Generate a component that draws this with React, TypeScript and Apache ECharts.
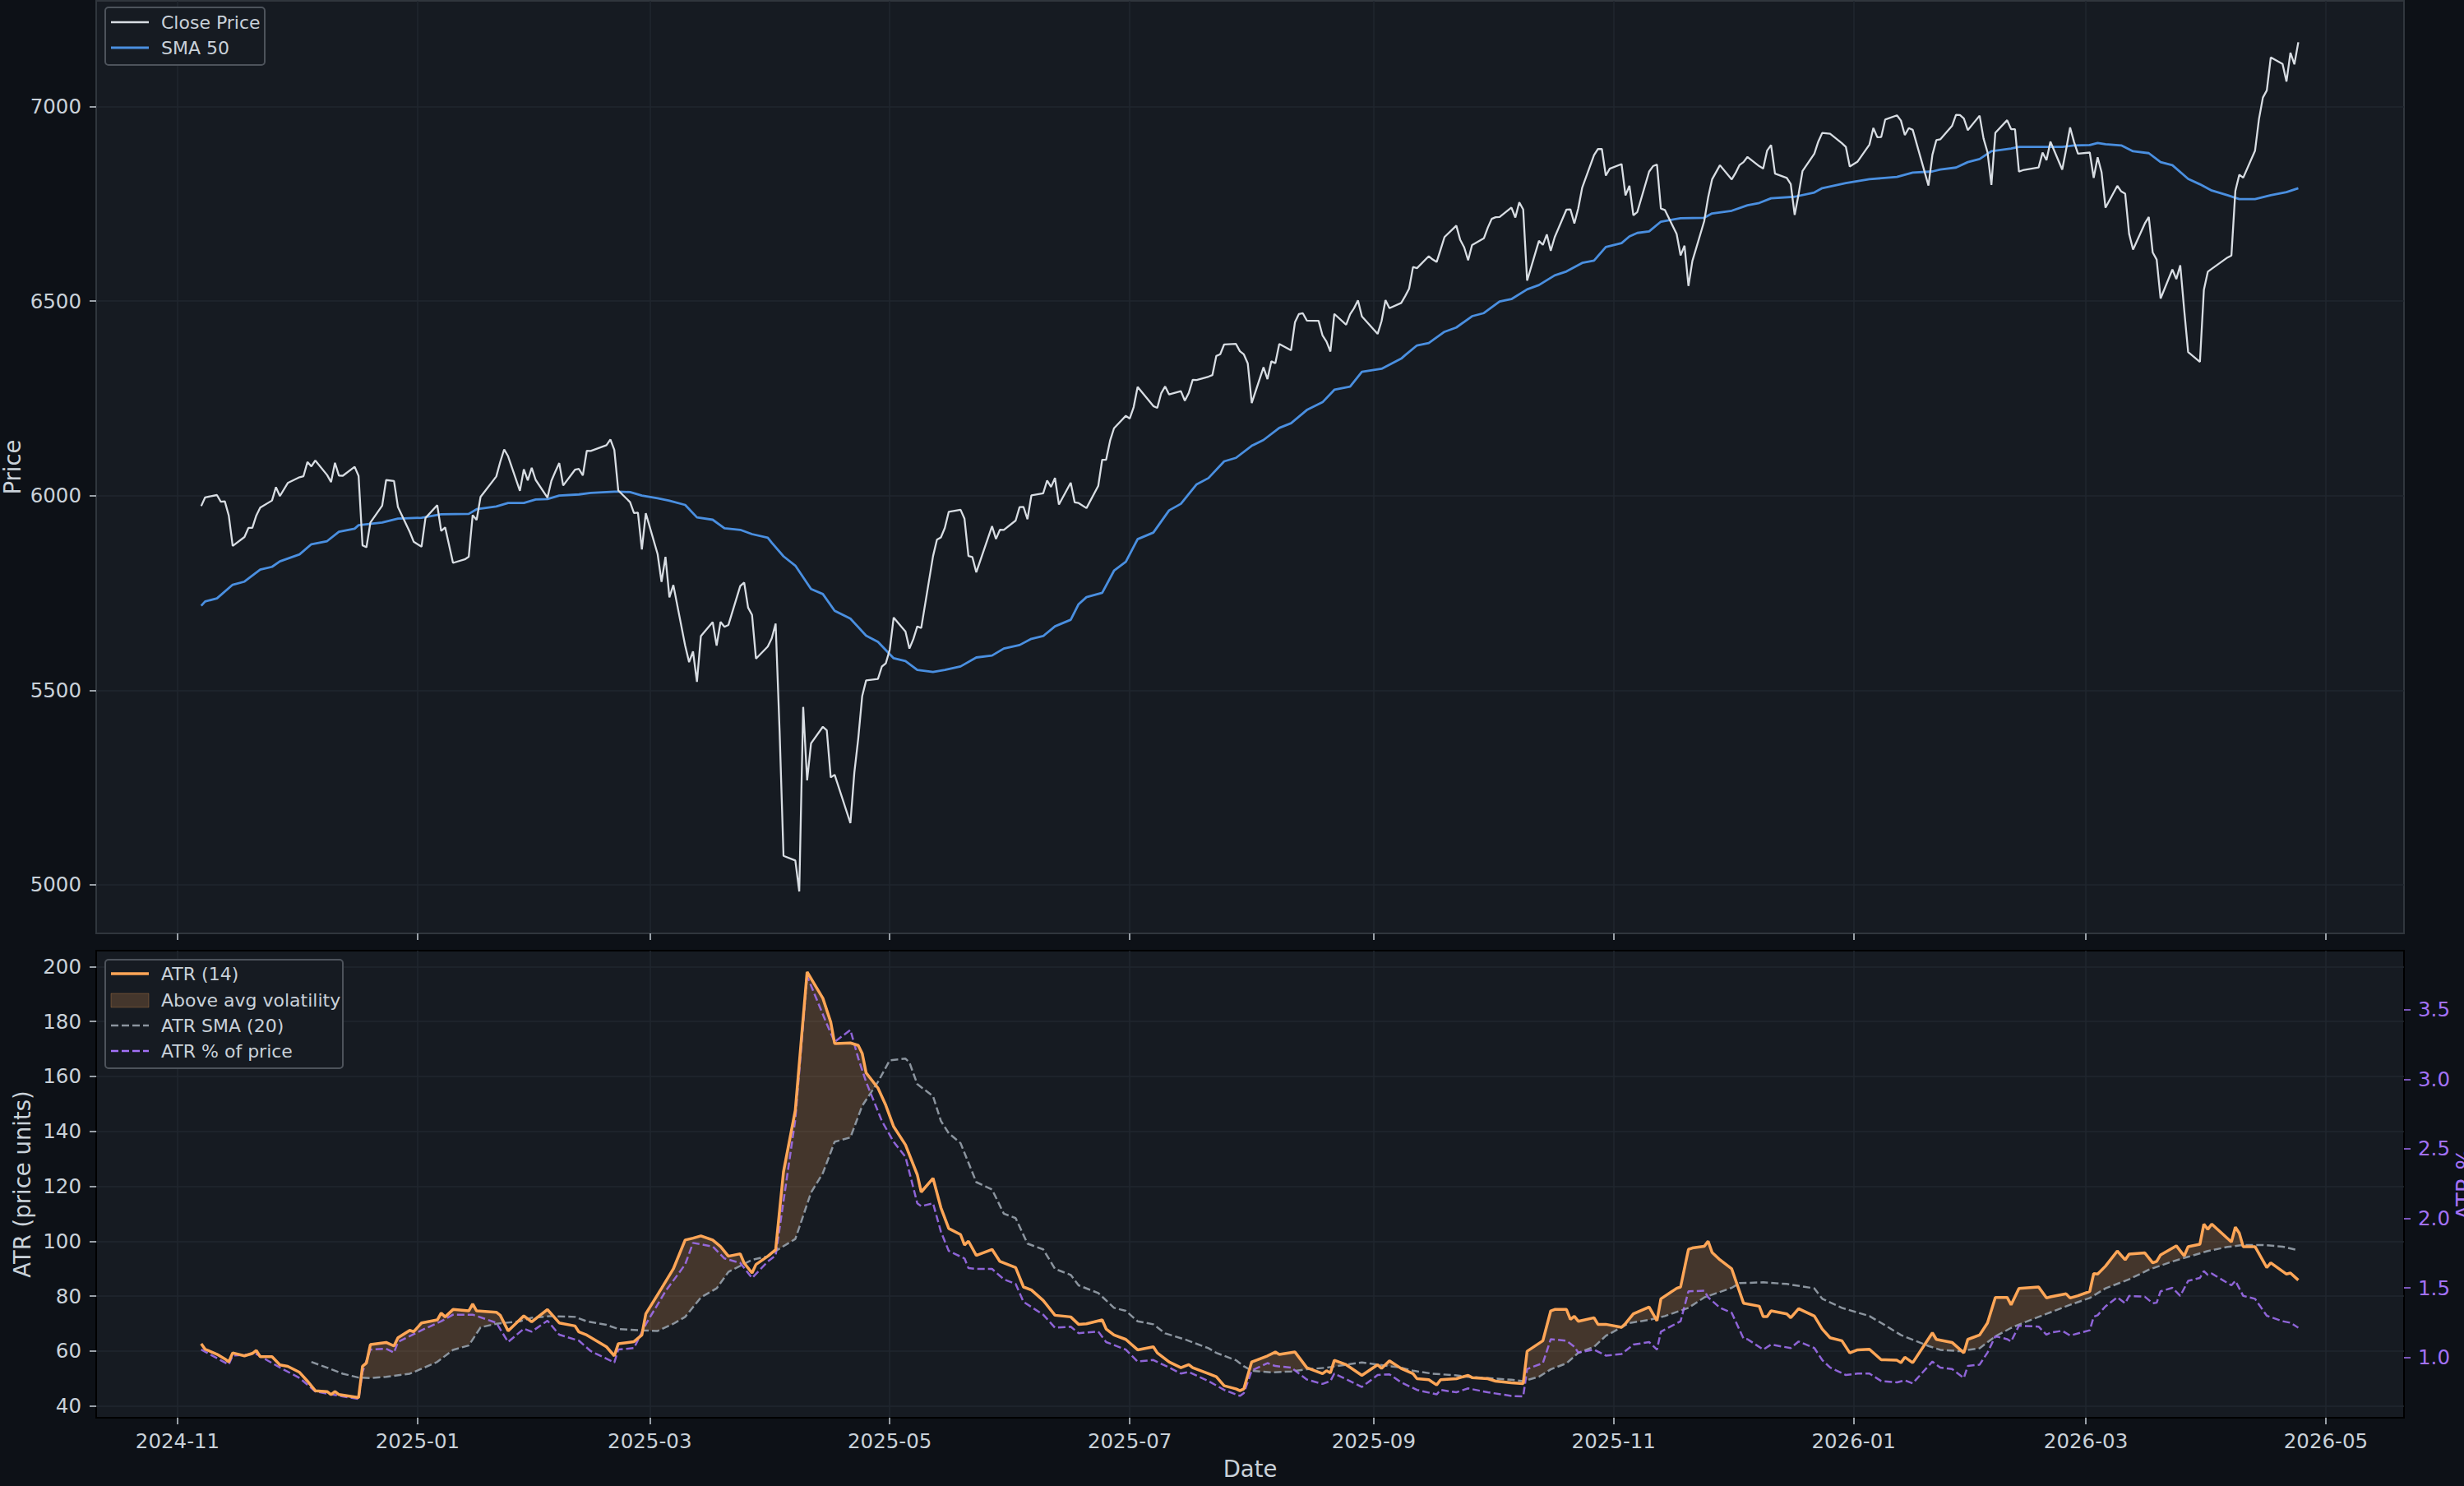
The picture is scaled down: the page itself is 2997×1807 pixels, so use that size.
import React, { useEffect, useRef } from "react";
import * as echarts from "echarts";

// ---------------- data ----------------
const closePrice: [string, number][] = [
  ["2024-11-07",5973.1],["2024-11-08",5995.5],["2024-11-11",6001.4],["2024-11-12",5984.0],["2024-11-13",5985.4],["2024-11-14",5949.2],["2024-11-15",5870.6],["2024-11-18",5893.6],["2024-11-19",5917.0],["2024-11-20",5917.1],["2024-11-21",5948.7],["2024-11-22",5969.3],["2024-11-25",5987.4],["2024-11-26",6021.6],["2024-11-27",5998.7],["2024-11-29",6032.4],
  ["2024-12-02",6047.2],["2024-12-03",6049.9],["2024-12-04",6086.5],["2024-12-05",6075.1],["2024-12-06",6090.3],["2024-12-09",6052.9],["2024-12-10",6034.9],["2024-12-11",6084.2],["2024-12-12",6051.3],["2024-12-13",6051.1],["2024-12-16",6074.1],["2024-12-17",6050.6],["2024-12-18",5872.2],["2024-12-19",5867.1],["2024-12-20",5930.9],["2024-12-23",5974.1],["2024-12-24",6040.0],["2024-12-26",6037.6],["2024-12-27",5970.8],["2024-12-30",5906.9],["2024-12-31",5881.6],
  ["2025-01-02",5868.6],["2025-01-03",5942.5],["2025-01-06",5975.4],["2025-01-07",5909.0],["2025-01-08",5918.3],["2025-01-10",5827.0],["2025-01-13",5836.2],["2025-01-14",5842.9],["2025-01-15",5949.9],["2025-01-16",5937.3],["2025-01-17",5996.7],["2025-01-21",6049.2],["2025-01-22",6086.4],["2025-01-23",6118.7],["2025-01-24",6101.2],["2025-01-27",6012.3],["2025-01-28",6067.7],["2025-01-29",6039.3],["2025-01-30",6071.2],["2025-01-31",6040.5],
  ["2025-02-03",5994.6],["2025-02-04",6037.9],["2025-02-05",6061.5],["2025-02-06",6083.6],["2025-02-07",6026.0],["2025-02-10",6066.4],["2025-02-11",6068.5],["2025-02-12",6052.0],["2025-02-13",6115.1],["2025-02-14",6114.6],["2025-02-18",6129.6],["2025-02-19",6144.2],["2025-02-20",6117.5],["2025-02-21",6013.1],["2025-02-24",5983.3],["2025-02-25",5955.3],["2025-02-26",5956.1],["2025-02-27",5861.6],["2025-02-28",5954.5],
  ["2025-03-03",5849.7],["2025-03-04",5778.2],["2025-03-05",5842.6],["2025-03-06",5738.5],["2025-03-07",5770.2],["2025-03-10",5614.6],["2025-03-11",5572.1],["2025-03-12",5599.3],["2025-03-13",5521.5],["2025-03-14",5638.9],["2025-03-17",5675.1],["2025-03-18",5614.7],["2025-03-19",5675.3],["2025-03-20",5662.9],["2025-03-21",5667.6],["2025-03-24",5767.6],["2025-03-25",5776.7],["2025-03-26",5712.2],["2025-03-27",5693.3],["2025-03-28",5580.9],["2025-03-31",5611.9],
  ["2025-04-01",5633.1],["2025-04-02",5671.0],["2025-04-03",5396.5],["2025-04-04",5074.1],["2025-04-07",5062.3],["2025-04-08",4982.8],["2025-04-09",5456.9],["2025-04-10",5268.1],["2025-04-11",5363.4],["2025-04-14",5406.0],["2025-04-15",5396.6],["2025-04-16",5275.7],["2025-04-17",5282.7],["2025-04-21",5158.2],["2025-04-22",5287.8],["2025-04-23",5375.9],["2025-04-24",5484.8],["2025-04-25",5525.2],["2025-04-28",5528.8],["2025-04-29",5560.8],["2025-04-30",5569.1],
  ["2025-05-01",5604.1],["2025-05-02",5686.7],["2025-05-05",5650.4],["2025-05-06",5606.9],["2025-05-07",5631.3],["2025-05-08",5663.9],["2025-05-09",5659.9],["2025-05-12",5844.2],["2025-05-13",5886.6],["2025-05-14",5892.6],["2025-05-15",5916.9],["2025-05-16",5958.4],["2025-05-19",5963.6],["2025-05-20",5940.5],["2025-05-21",5844.6],["2025-05-22",5842.0],["2025-05-23",5802.8],["2025-05-27",5921.5],["2025-05-28",5888.6],["2025-05-29",5912.2],["2025-05-30",5911.7],
  ["2025-06-02",5935.9],["2025-06-03",5970.4],["2025-06-04",5970.8],["2025-06-05",5939.3],["2025-06-06",6000.4],["2025-06-09",6005.9],["2025-06-10",6038.8],["2025-06-11",6022.2],["2025-06-12",6045.3],["2025-06-13",5977.0],["2025-06-16",6033.1],["2025-06-17",5982.7],["2025-06-18",5980.9],["2025-06-20",5967.8],["2025-06-23",6025.2],["2025-06-24",6092.2],["2025-06-25",6092.2],["2025-06-26",6141.0],["2025-06-27",6173.1],["2025-06-30",6205.0],
  ["2025-07-01",6198.0],["2025-07-02",6227.4],["2025-07-03",6279.4],["2025-07-07",6230.0],["2025-07-08",6225.5],["2025-07-09",6263.3],["2025-07-10",6280.5],["2025-07-11",6259.8],["2025-07-14",6268.6],["2025-07-15",6243.8],["2025-07-16",6263.7],["2025-07-17",6297.4],["2025-07-18",6296.8],["2025-07-21",6305.6],["2025-07-22",6309.6],["2025-07-23",6358.9],["2025-07-24",6363.4],["2025-07-25",6388.6],["2025-07-28",6389.8],["2025-07-29",6370.9],["2025-07-30",6362.9],["2025-07-31",6339.4],
  ["2025-08-01",6238.0],["2025-08-04",6329.9],["2025-08-05",6299.2],["2025-08-06",6345.1],["2025-08-07",6340.0],["2025-08-08",6389.5],["2025-08-11",6373.5],["2025-08-12",6445.8],["2025-08-13",6466.6],["2025-08-14",6468.5],["2025-08-15",6449.8],["2025-08-18",6449.2],["2025-08-19",6411.4],["2025-08-20",6395.8],["2025-08-21",6370.2],["2025-08-22",6466.9],["2025-08-25",6439.3],["2025-08-26",6465.9],["2025-08-27",6481.4],["2025-08-28",6501.9],["2025-08-29",6460.3],
  ["2025-09-02",6415.5],["2025-09-03",6448.3],["2025-09-04",6502.1],["2025-09-05",6481.5],["2025-09-08",6495.2],["2025-09-09",6512.6],["2025-09-10",6532.0],["2025-09-11",6587.5],["2025-09-12",6584.3],["2025-09-15",6615.3],["2025-09-16",6606.8],["2025-09-17",6600.4],["2025-09-18",6632.0],["2025-09-19",6664.4],["2025-09-22",6693.8],["2025-09-23",6656.9],["2025-09-24",6638.0],["2025-09-25",6604.7],["2025-09-26",6643.7],["2025-09-29",6661.2],["2025-09-30",6688.5],
  ["2025-10-01",6711.2],["2025-10-02",6715.4],["2025-10-03",6715.8],["2025-10-06",6740.3],["2025-10-07",6714.6],["2025-10-08",6753.7],["2025-10-09",6735.1],["2025-10-10",6552.5],["2025-10-13",6654.7],["2025-10-14",6644.3],["2025-10-15",6671.1],["2025-10-16",6629.1],["2025-10-17",6664.0],["2025-10-20",6735.1],["2025-10-21",6735.4],["2025-10-22",6699.4],["2025-10-23",6738.4],["2025-10-24",6791.7],["2025-10-27",6875.2],["2025-10-28",6890.9],["2025-10-29",6890.6],["2025-10-30",6822.3],["2025-10-31",6840.2],
  ["2025-11-03",6852.0],["2025-11-04",6771.6],["2025-11-05",6796.3],["2025-11-06",6720.3],["2025-11-07",6728.8],["2025-11-10",6832.4],["2025-11-11",6846.6],["2025-11-12",6850.9],["2025-11-13",6737.5],["2025-11-14",6734.1],["2025-11-17",6672.4],["2025-11-18",6617.3],["2025-11-19",6642.2],["2025-11-20",6538.8],["2025-11-21",6603.0],["2025-11-24",6705.1],["2025-11-25",6765.9],["2025-11-26",6812.6],["2025-11-28",6849.1],
  ["2025-12-01",6812.6],["2025-12-02",6829.4],["2025-12-03",6849.7],["2025-12-04",6857.1],["2025-12-05",6870.4],["2025-12-08",6846.5],["2025-12-09",6840.5],["2025-12-10",6886.7],["2025-12-11",6901.0],["2025-12-12",6827.4],["2025-12-15",6816.5],["2025-12-16",6800.3],["2025-12-17",6721.4],["2025-12-18",6774.8],["2025-12-19",6834.5],["2025-12-22",6878.5],["2025-12-23",6909.8],["2025-12-24",6932.1],["2025-12-26",6929.9],["2025-12-29",6905.7],["2025-12-30",6896.2],["2025-12-31",6845.5],
  ["2026-01-02",6858.5],["2026-01-05",6902.1],["2026-01-06",6944.8],["2026-01-07",6920.9],["2026-01-08",6921.5],["2026-01-09",6966.3],["2026-01-12",6977.3],["2026-01-13",6963.7],["2026-01-14",6926.6],["2026-01-15",6944.5],["2026-01-16",6940.0],["2026-01-20",6796.9],["2026-01-21",6875.6],["2026-01-22",6913.4],["2026-01-23",6915.6],["2026-01-26",6950.2],["2026-01-27",6978.6],["2026-01-28",6978.0],["2026-01-29",6969.0],["2026-01-30",6939.0],
  ["2026-02-02",6976.4],["2026-02-03",6917.8],["2026-02-04",6882.7],["2026-02-05",6798.4],["2026-02-06",6932.3],["2026-02-09",6964.8],["2026-02-10",6941.8],["2026-02-11",6941.5],["2026-02-12",6832.8],["2026-02-13",6836.2],["2026-02-17",6843.2],["2026-02-18",6881.3],["2026-02-19",6861.9],["2026-02-20",6909.5],["2026-02-23",6837.8],["2026-02-24",6890.1],["2026-02-25",6946.1],["2026-02-26",6908.9],["2026-02-27",6878.9],
  ["2026-03-02",6881.6],["2026-03-03",6816.6],["2026-03-04",6869.5],["2026-03-05",6830.7],["2026-03-06",6740.0],["2026-03-09",6796.0],["2026-03-10",6781.5],["2026-03-11",6775.8],["2026-03-12",6672.6],["2026-03-13",6632.2],["2026-03-16",6699.4],["2026-03-17",6716.1],["2026-03-18",6624.7],["2026-03-19",6606.5],["2026-03-20",6506.5],["2026-03-23",6581.0],["2026-03-24",6556.4],["2026-03-25",6591.9],["2026-03-26",6477.2],["2026-03-27",6368.9],["2026-03-30",6343.7],["2026-03-31",6528.5],
  ["2026-04-01",6575.3],["2026-04-02",6582.7],["2026-04-06",6611.8],["2026-04-07",6616.9],["2026-04-08",6782.8],["2026-04-09",6824.7],["2026-04-10",6816.9],["2026-04-13",6886.2],["2026-04-14",6967.4],["2026-04-15",7023.0],["2026-04-16",7041.3],["2026-04-17",7126.1],["2026-04-20",7109.1],["2026-04-21",7064.0],["2026-04-22",7137.9],["2026-04-23",7108.4],["2026-04-24",7165.1],
];

const sma50: [string, number][] = [
  ["2024-11-07",5717],["2024-11-08",5728],["2024-11-11",5736],["2024-11-15",5771],["2024-11-18",5779],["2024-11-22",5810],["2024-11-25",5817],["2024-11-27",5831],["2024-12-02",5849],["2024-12-05",5875],["2024-12-09",5883],["2024-12-12",5907],["2024-12-16",5915],["2024-12-17",5924],["2024-12-23",5931],["2024-12-27",5941],
  ["2025-01-02",5943],["2025-01-07",5952],["2025-01-14",5953],["2025-01-16",5965],["2025-01-21",5972],["2025-01-24",5981],["2025-01-28",5981],["2025-01-31",5990],["2025-02-03",5991],["2025-02-06",6000],["2025-02-11",6003],["2025-02-14",6007],["2025-02-20",6010],["2025-02-21",6010],["2025-02-24",6009],["2025-02-27",6000],
  ["2025-03-03",5993],["2025-03-06",5987],["2025-03-10",5976],["2025-03-13",5944],["2025-03-17",5938],["2025-03-20",5916],["2025-03-24",5912],["2025-03-27",5901],["2025-03-31",5892],["2025-04-01",5879],["2025-04-04",5844],["2025-04-07",5820],["2025-04-11",5760],["2025-04-14",5747],["2025-04-17",5704],["2025-04-21",5684],["2025-04-25",5640],["2025-04-28",5624],
  ["2025-05-02",5582],["2025-05-05",5575],["2025-05-08",5552],["2025-05-12",5547],["2025-05-15",5552],["2025-05-19",5561],["2025-05-23",5584],["2025-05-27",5589],["2025-05-30",5607],["2025-06-03",5616],["2025-06-06",5632],["2025-06-09",5639],["2025-06-12",5664],["2025-06-16",5681],["2025-06-18",5721],["2025-06-20",5739],["2025-06-24",5750],["2025-06-27",5807],["2025-06-30",5830],
  ["2025-07-03",5888],["2025-07-07",5905],["2025-07-11",5962],["2025-07-14",5979],["2025-07-18",6029],["2025-07-21",6045],["2025-07-25",6088],["2025-07-28",6097],["2025-08-01",6128],["2025-08-04",6143],["2025-08-08",6174],["2025-08-11",6186],["2025-08-15",6220],["2025-08-19",6240],["2025-08-22",6272],["2025-08-26",6280],["2025-08-29",6318],
  ["2025-09-03",6326],["2025-09-08",6352],["2025-09-09",6361],["2025-09-12",6386],["2025-09-15",6392],["2025-09-19",6421],["2025-09-22",6432],["2025-09-26",6461],["2025-09-29",6469],["2025-10-03",6499],["2025-10-06",6505],["2025-10-10",6530],["2025-10-13",6541],["2025-10-17",6566],["2025-10-20",6576],["2025-10-24",6598],["2025-10-27",6604],["2025-10-30",6639],
  ["2025-11-03",6649],["2025-11-05",6666],["2025-11-07",6675],["2025-11-10",6679],["2025-11-13",6704],["2025-11-18",6713],["2025-11-24",6714],["2025-11-26",6725],["2025-12-01",6732],["2025-12-05",6746],["2025-12-08",6752],["2025-12-11",6764],["2025-12-17",6768],["2025-12-22",6779],["2025-12-24",6790],["2025-12-30",6803],
  ["2026-01-05",6813],["2026-01-12",6819],["2026-01-16",6830],["2026-01-21",6833],["2026-01-23",6838],["2026-01-27",6843],["2026-01-30",6857],["2026-02-02",6865],["2026-02-05",6885],["2026-02-10",6892],["2026-02-12",6896],["2026-02-17",6896],["2026-02-23",6896],["2026-02-26",6900],
  ["2026-03-02",6901],["2026-03-04",6906],["2026-03-06",6903],["2026-03-10",6900],["2026-03-13",6885],["2026-03-17",6880],["2026-03-20",6857],["2026-03-23",6849],["2026-03-27",6814],["2026-03-30",6800],["2026-04-02",6784],["2026-04-06",6772],["2026-04-09",6762],["2026-04-13",6762],["2026-04-17",6772],["2026-04-21",6780],["2026-04-24",6790],
];

const atr14: [string, number][] = [
  ["2024-11-07",62.6],["2024-11-08",60.6],["2024-11-11",58.8],["2024-11-13",57.1],["2024-11-14",56.0],["2024-11-15",59.3],["2024-11-18",58.2],["2024-11-20",59.1],["2024-11-21",60.2],["2024-11-22",57.9],["2024-11-25",57.9],["2024-11-27",54.9],["2024-11-29",54.4],
  ["2024-12-02",52.2],["2024-12-04",49.0],["2024-12-06",45.5],["2024-12-09",45.2],["2024-12-10",44.1],["2024-12-11",45.2],["2024-12-12",44.1],["2024-12-17",43.0],["2024-12-18",54.4],["2024-12-19",55.6],["2024-12-20",62.3],["2024-12-24",63.1],["2024-12-26",61.8],["2024-12-27",64.8],["2024-12-30",67.5],["2024-12-31",67.0],
  ["2025-01-02",70.2],["2025-01-06",71.3],["2025-01-07",73.8],["2025-01-08",72.4],["2025-01-10",75.1],["2025-01-14",74.6],["2025-01-15",77.1],["2025-01-16",74.6],["2025-01-21",74.1],["2025-01-22",73.0],["2025-01-24",67.3],["2025-01-28",72.8],["2025-01-30",70.6],
  ["2025-02-03",75.1],["2025-02-06",70.2],["2025-02-10",69.1],["2025-02-11",66.9],["2025-02-13",65.8],["2025-02-18",61.5],["2025-02-20",58.2],["2025-02-21",62.6],["2025-02-25",63.4],["2025-02-27",65.8],["2025-02-28",73.5],
  ["2025-03-04",82.8],["2025-03-07",89.9],["2025-03-10",100.4],["2025-03-12",101.1],["2025-03-14",101.9],["2025-03-17",100.4],["2025-03-19",98.0],["2025-03-21",94.5],["2025-03-24",95.4],["2025-03-25",92.0],["2025-03-27",88.4],["2025-03-28",91.5],["2025-03-31",94.5],
  ["2025-04-02",96.9],["2025-04-04",125.3],["2025-04-07",147.7],["2025-04-10",198.1],["2025-04-14",188.5],["2025-04-16",179.8],["2025-04-17",172.0],["2025-04-21",172.2],["2025-04-23",171.3],["2025-04-24",168.4],["2025-04-25",161.3],["2025-04-28",155.8],["2025-04-30",149.5],
  ["2025-05-02",141.7],["2025-05-05",135.1],["2025-05-08",124.2],["2025-05-09",117.9],["2025-05-12",122.9],["2025-05-14",112.2],["2025-05-16",104.6],["2025-05-19",102.4],["2025-05-20",98.6],["2025-05-21",100.0],["2025-05-23",94.8],["2025-05-27",97.0],["2025-05-29",92.6],
  ["2025-06-02",90.4],["2025-06-04",83.3],["2025-06-06",82.2],["2025-06-09",78.4],["2025-06-12",73.0],["2025-06-16",72.4],["2025-06-18",69.7],["2025-06-20",69.9],["2025-06-24",71.3],["2025-06-25",68.0],["2025-06-27",65.8],["2025-06-30",64.2],
  ["2025-07-03",60.4],["2025-07-07",61.5],["2025-07-08",59.3],["2025-07-11",56.0],["2025-07-14",53.9],["2025-07-16",55.0],["2025-07-17",53.9],["2025-07-21",51.7],["2025-07-23",50.6],["2025-07-25",47.3],["2025-07-28",46.2],["2025-07-29",45.5],["2025-07-30",46.2],
  ["2025-08-01",56.0],["2025-08-05",58.2],["2025-08-07",59.6],["2025-08-08",58.7],["2025-08-12",59.6],["2025-08-15",53.9],["2025-08-19",51.7],["2025-08-20",52.8],["2025-08-21",52.0],["2025-08-22",56.6],["2025-08-25",55.0],["2025-08-29",51.1],
  ["2025-09-02",55.0],["2025-09-03",53.6],["2025-09-05",56.4],["2025-09-08",53.6],["2025-09-11",51.7],["2025-09-12",49.9],["2025-09-15",49.5],["2025-09-17",47.6],["2025-09-18",49.5],["2025-09-22",49.9],["2025-09-25",51.1],["2025-09-26",50.3],["2025-09-30",49.9],
  ["2025-10-02",49.0],["2025-10-06",48.4],["2025-10-09",48.1],["2025-10-10",59.9],["2025-10-14",63.7],["2025-10-16",74.6],["2025-10-17",75.1],["2025-10-20",75.1],["2025-10-21",71.5],["2025-10-22",72.6],["2025-10-23",70.8],["2025-10-27",72.1],["2025-10-28",69.7],["2025-10-30",69.7],
  ["2025-11-03",68.6],["2025-11-04",70.0],["2025-11-06",73.5],["2025-11-10",76.0],["2025-11-12",71.0],["2025-11-13",79.0],["2025-11-17",82.8],["2025-11-18",83.3],["2025-11-20",97.0],["2025-11-21",97.5],["2025-11-24",98.1],["2025-11-25",100.0],["2025-11-26",95.9],["2025-11-28",93.2],
  ["2025-12-01",89.9],["2025-12-04",77.4],["2025-12-08",76.3],["2025-12-09",72.5],["2025-12-10",72.5],["2025-12-11",74.6],["2025-12-15",73.5],["2025-12-16",72.1],["2025-12-18",75.4],["2025-12-22",72.7],["2025-12-24",68.0],["2025-12-26",64.8],["2025-12-29",63.7],["2025-12-31",59.3],
  ["2026-01-02",60.4],["2026-01-05",60.6],["2026-01-08",56.8],["2026-01-09",56.8],["2026-01-12",56.6],["2026-01-13",55.7],["2026-01-14",57.7],["2026-01-16",55.7],["2026-01-21",66.6],["2026-01-22",64.2],["2026-01-26",63.1],["2026-01-29",59.3],["2026-01-30",64.2],
  ["2026-02-02",65.8],["2026-02-04",70.2],["2026-02-06",79.5],["2026-02-09",79.5],["2026-02-10",76.8],["2026-02-12",82.8],["2026-02-17",83.3],["2026-02-19",79.3],["2026-02-20",79.7],["2026-02-24",80.8],["2026-02-25",79.3],["2026-02-27",80.1],
  ["2026-03-02",81.7],["2026-03-03",88.2],["2026-03-04",88.0],["2026-03-06",90.9],["2026-03-09",96.4],["2026-03-11",93.2],["2026-03-12",95.3],["2026-03-16",95.7],["2026-03-18",92.1],["2026-03-19",92.6],["2026-03-20",95.0],["2026-03-24",98.3],["2026-03-26",94.6],["2026-03-27",98.0],["2026-03-30",98.9],["2026-03-31",106.2],
  ["2026-04-01",104.3],["2026-04-02",106.2],["2026-04-07",99.7],["2026-04-08",105.1],["2026-04-09",102.9],["2026-04-10",98.0],["2026-04-13",98.0],["2026-04-16",90.4],["2026-04-17",92.1],["2026-04-21",88.0],["2026-04-22",88.4],["2026-04-24",85.8],
];

const atrSma20: [string, number][] = [
  ["2024-12-05",56.0],["2024-12-09",53.9],["2024-12-13",51.7],["2024-12-17",50.3],["2024-12-20",50.1],["2024-12-24",50.6],["2024-12-30",51.7],
  ["2025-01-02",53.5],["2025-01-06",56.0],["2025-01-10",60.4],["2025-01-14",62.0],["2025-01-17",68.6],["2025-01-21",69.9],["2025-01-27",70.8],["2025-01-30",72.1],["2025-02-04",72.7],["2025-02-10",72.4],["2025-02-13",70.8],["2025-02-18",69.5],["2025-02-21",68.0],["2025-02-27",67.5],
  ["2025-03-03",67.3],["2025-03-07",69.9],["2025-03-10",72.4],["2025-03-14",79.5],["2025-03-18",82.8],["2025-03-21",88.8],["2025-03-27",93.2],["2025-03-31",94.5],["2025-04-02",96.4],["2025-04-07",100.8],["2025-04-11",117.7],["2025-04-14",124.8],["2025-04-17",136.2],["2025-04-21",137.8],["2025-04-24",149.3],["2025-04-28",158.0],
  ["2025-05-01",165.9],["2025-05-05",166.5],["2025-05-06",165.1],["2025-05-08",157.2],["2025-05-12",152.8],["2025-05-14",143.8],["2025-05-16",139.3],["2025-05-19",135.7],["2025-05-23",121.5],["2025-05-27",118.8],["2025-05-30",110.0],
  ["2025-06-02",108.4],["2025-06-05",99.1],["2025-06-09",97.0],["2025-06-12",89.9],["2025-06-16",87.7],["2025-06-18",83.9],["2025-06-23",81.1],["2025-06-27",75.7],["2025-06-30",74.6],
  ["2025-07-03",70.8],["2025-07-07",69.7],["2025-07-10",66.4],["2025-07-15",64.2],["2025-07-21",61.0],["2025-07-23",59.3],["2025-07-28",56.6],["2025-07-30",54.4],["2025-08-01",52.8],["2025-08-06",52.2],["2025-08-11",52.5],["2025-08-15",53.3],["2025-08-20",53.9],["2025-08-25",55.0],["2025-08-29",55.8],
  ["2025-09-02",55.0],["2025-09-08",53.9],["2025-09-11",52.8],["2025-09-16",51.7],["2025-09-22",51.1],["2025-09-25",50.6],["2025-09-30",50.1],["2025-10-06",49.5],["2025-10-09",49.0],["2025-10-13",50.6],["2025-10-16",53.3],["2025-10-20",55.5],["2025-10-23",59.3],["2025-10-27",61.5],["2025-10-30",65.5],
  ["2025-11-05",70.2],["2025-11-10",71.3],["2025-11-14",72.7],["2025-11-20",75.7],["2025-11-24",79.5],["2025-12-01",83.0],["2025-12-03",84.7],["2025-12-09",85.0],["2025-12-15",84.4],["2025-12-22",82.8],["2025-12-24",79.0],["2025-12-29",75.7],
  ["2026-01-05",72.7],["2026-01-08",70.2],["2026-01-13",65.8],["2026-01-20",61.8],["2026-01-23",60.4],["2026-01-28",59.9],["2026-02-02",61.0],["2026-02-06",65.3],["2026-02-10",68.4],["2026-02-13",70.2],["2026-02-19",73.5],["2026-02-25",76.8],
  ["2026-03-02",79.3],["2026-03-06",82.8],["2026-03-12",86.1],["2026-03-17",89.6],["2026-03-23",92.6],["2026-03-27",94.3],["2026-04-01",96.4],["2026-04-06",97.9],["2026-04-10",98.6],["2026-04-15",98.6],["2026-04-20",98.0],["2026-04-24",96.7],
];

const atrPct: [string, number][] = [
  ["2024-11-07",1.056],["2024-11-14",0.948],["2024-11-15",1.013],["2024-11-21",1.024],["2024-11-27",0.927],["2024-12-02",0.852],["2024-12-06",0.755],["2024-12-10",0.734],["2024-12-17",0.701],["2024-12-18",0.895],["2024-12-20",1.056],["2024-12-24",1.062],["2024-12-26",1.034],["2024-12-27",1.110],
  ["2025-01-02",1.195],["2025-01-07",1.260],["2025-01-10",1.307],["2025-01-15",1.307],["2025-01-21",1.249],["2025-01-24",1.110],["2025-01-28",1.206],["2025-01-30",1.185],["2025-02-03",1.264],["2025-02-06",1.163],["2025-02-11",1.120],["2025-02-14",1.045],["2025-02-20",0.963],["2025-02-21",1.056],["2025-02-25",1.067],["2025-02-28",1.238],
  ["2025-03-05",1.475],["2025-03-10",1.668],["2025-03-12",1.823],["2025-03-17",1.797],["2025-03-20",1.711],["2025-03-24",1.679],["2025-03-27",1.571],["2025-03-31",1.689],["2025-04-02",1.732],["2025-04-07",2.710],["2025-04-10",3.741],["2025-04-15",3.397],["2025-04-17",3.268],["2025-04-21",3.354],["2025-04-23",3.150],["2025-04-25",2.980],["2025-04-29",2.699],
  ["2025-05-02",2.549],["2025-05-05",2.441],["2025-05-08",2.108],["2025-05-09",2.087],["2025-05-12",2.108],["2025-05-14",1.904],["2025-05-16",1.765],["2025-05-20",1.711],["2025-05-21",1.642],["2025-05-23",1.636],["2025-05-27",1.636],["2025-05-30",1.561],
  ["2025-06-02",1.528],["2025-06-04",1.399],["2025-06-09",1.307],["2025-06-12",1.213],["2025-06-16",1.221],["2025-06-18",1.174],["2025-06-23",1.185],["2025-06-25",1.110],["2025-06-30",1.056],
  ["2025-07-03",0.970],["2025-07-07",0.981],["2025-07-11",0.927],["2025-07-14",0.884],["2025-07-16",0.895],["2025-07-21",0.830],["2025-07-25",0.766],["2025-07-29",0.723],["2025-07-30",0.744],
  ["2025-08-01",0.905],["2025-08-05",0.959],["2025-08-07",0.938],["2025-08-11",0.927],["2025-08-15",0.841],["2025-08-19",0.809],["2025-08-21",0.830],["2025-08-22",0.884],["2025-08-29",0.787],
  ["2025-09-02",0.873],["2025-09-05",0.878],["2025-09-08",0.820],["2025-09-12",0.766],["2025-09-17",0.734],["2025-09-18",0.766],["2025-09-22",0.749],["2025-09-25",0.777],["2025-09-30",0.749],
  ["2025-10-06",0.723],["2025-10-09",0.719],["2025-10-10",0.916],["2025-10-14",0.959],["2025-10-16",1.131],["2025-10-20",1.120],["2025-10-22",1.077],["2025-10-23",1.034],["2025-10-27",1.056],["2025-10-30",1.013],
  ["2025-11-03",1.024],["2025-11-06",1.092],["2025-11-10",1.110],["2025-11-12",1.056],["2025-11-13",1.185],["2025-11-18",1.260],["2025-11-20",1.475],["2025-11-24",1.479],["2025-11-25",1.432],["2025-11-28",1.357],
  ["2025-12-01",1.320],["2025-12-04",1.135],["2025-12-05",1.131],["2025-12-09",1.056],["2025-12-11",1.092],["2025-12-16",1.067],["2025-12-18",1.114],["2025-12-22",1.067],["2025-12-24",0.981],["2025-12-26",0.927],["2025-12-30",0.873],
  ["2026-01-02",0.884],["2026-01-05",0.884],["2026-01-08",0.830],["2026-01-12",0.820],["2026-01-14",0.835],["2026-01-16",0.813],["2026-01-21",0.970],["2026-01-23",0.927],["2026-01-26",0.916],["2026-01-29",0.852],["2026-01-30",0.938],
  ["2026-02-02",0.948],["2026-02-04",1.034],["2026-02-06",1.152],["2026-02-09",1.131],["2026-02-10",1.114],["2026-02-12",1.228],["2026-02-17",1.221],["2026-02-19",1.163],["2026-02-20",1.178],["2026-02-23",1.191],["2026-02-25",1.157],
  ["2026-03-02",1.195],["2026-03-03",1.292],["2026-03-04",1.303],["2026-03-06",1.367],["2026-03-09",1.432],["2026-03-11",1.389],["2026-03-12",1.442],["2026-03-16",1.436],["2026-03-18",1.389],["2026-03-19",1.393],["2026-03-20",1.475],["2026-03-23",1.500],["2026-03-25",1.442],["2026-03-27",1.550],["2026-03-30",1.571],["2026-03-31",1.621],
  ["2026-04-01",1.593],["2026-04-02",1.603],["2026-04-07",1.518],["2026-04-08",1.550],["2026-04-10",1.442],["2026-04-13",1.421],["2026-04-16",1.299],["2026-04-20",1.260],["2026-04-22",1.249],["2026-04-24",1.213],
];

const monthTicks = ["2024-11-01","2025-01-01","2025-03-01","2025-05-01","2025-07-01","2025-09-01","2025-11-01","2026-01-01","2026-03-01","2026-05-01"];
const priceTicks = [5000, 5500, 6000, 6500, 7000];
const atrTicks = [40, 60, 80, 100, 120, 140, 160, 180, 200];
const pctTicks = [1.0, 1.5, 2.0, 2.5, 3.0, 3.5];

// ---------------- helpers & styles ----------------
const ts = (d: string) => Date.UTC(+d.slice(0, 4), +d.slice(5, 7) - 1, +d.slice(8, 10));
const toXY = (arr: [string, number][]) => arr.map(([d, v]) => [ts(d), v]);

const BG = "#0d1117";
const PANEL = "#161b22";
const TEXT = "#c9d1d9";
const GRIDC = "#21272f";
const FONT = "DejaVu Sans";
const C_CLOSE = "#d8dde3";
const C_SMA = "#4a8fe0";
const C_ATR = "#ffa657";
const C_ATRSMA = "#8b949e";
const C_PCT = "#a371f7";
const C_FILL = "rgba(255,166,87,0.2)";

const X_MIN = Date.UTC(2024, 9, 11, 7, 26);
const X_MAX = Date.UTC(2026, 4, 20, 20, 38);

function valAt(P: number[][], t: number) {
  if (t <= P[0][0]) return P[0][1];
  for (let i = 1; i < P.length; i++) {
    if (t <= P[i][0]) {
      const [t0, v0] = P[i - 1];
      const [t1, v1] = P[i];
      return v0 + ((v1 - v0) * (t - t0)) / (t1 - t0);
    }
  }
  return P[P.length - 1][1];
}

function fillPolygons(A: number[][], S: number[][]) {
  const lo = Math.max(A[0][0], S[0][0]);
  const hi = Math.min(A[A.length - 1][0], S[S.length - 1][0]);
  const xs = Array.from(new Set([...A, ...S].map((p) => p[0])))
    .filter((t) => t >= lo && t <= hi)
    .sort((a, b) => a - b);
  const polys: number[][][] = [];
  let up: number[][] = [];
  let dn: number[][] = [];
  const flush = () => {
    if (up.length > 1) polys.push([...up, ...dn.slice().reverse()]);
    up = [];
    dn = [];
  };
  let pT: number | null = null;
  let pD = 0;
  for (const t of xs) {
    const a = valAt(A, t);
    const s = valAt(S, t);
    const d = a - s;
    if (pT !== null && (pD > 0) !== (d > 0) && pD !== d) {
      const tc = pT + ((t - pT) * pD) / (pD - d);
      const vc = valAt(S, tc);
      up.push([tc, vc]);
      dn.push([tc, vc]);
      if (pD > 0) flush();
    }
    if (d > 0) {
      up.push([t, a]);
      dn.push([t, s]);
    }
    pT = t;
    pD = d;
  }
  flush();
  return polys;
}

const fmtMonth = (v: number) => {
  const d = new Date(v);
  return `${d.getUTCFullYear()}-${String(d.getUTCMonth() + 1).padStart(2, "0")}`;
};

export default function App() {
  const ref = useRef<HTMLDivElement>(null);
  useEffect(() => {
    document.body.style.margin = "0";
    const chart = echarts.init(ref.current!, null, { renderer: "svg" });

    const monthTs = monthTicks.map(ts);
    const atrXY = toXY(atr14);
    const smaXY = toXY(atrSma20);
    const polys = fillPolygons(atrXY, smaXY);

    const tickLabel = { color: TEXT, fontSize: 24.5, fontFamily: FONT };
    const nameStyle = { color: TEXT, fontSize: 27.5, fontFamily: FONT };
    const tickStyle = { show: true, length: 8, lineStyle: { color: TEXT, width: 1.5 } };

    const legendText = (x: number, y: number, t: string) => ({
      type: "text", x, y, z: 101,
      style: { text: t, fill: TEXT, font: `22px "${FONT}"`, textVerticalAlign: "middle", textAlign: "left" },
    });
    const legendLine = (y: number, color: string, w: number, dash?: number[]) => ({
      type: "line", z: 101,
      shape: { x1: 135, y1: y, x2: 181, y2: y },
      style: { stroke: color, lineWidth: w, lineDash: dash || null },
    });

    const option: any = {
      animation: false,
      backgroundColor: BG,
      textStyle: { fontFamily: FONT },
      grid: [
        { left: 117, top: 1, width: 2807, height: 1134, show: true, backgroundColor: PANEL, borderColor: "#30363d", borderWidth: 2, outerBoundsMode: "none" },
        { left: 117, top: 1156, width: 2807, height: 568, show: true, backgroundColor: PANEL, borderColor: "#000000", borderWidth: 2, outerBoundsMode: "none" },
      ],
      xAxis: [
        {
          type: "value", gridIndex: 0, min: X_MIN, max: X_MAX,
          axisLine: { show: false },
          axisTick: { ...tickStyle, customValues: monthTs },
          axisLabel: { show: false, customValues: monthTs },
          splitLine: { show: true, lineStyle: { color: GRIDC, width: 1.5 } },
        },
        {
          type: "value", gridIndex: 1, min: X_MIN, max: X_MAX,
          axisLine: { show: false },
          axisTick: { ...tickStyle, customValues: monthTs },
          axisLabel: { ...tickLabel, customValues: monthTs, formatter: fmtMonth, margin: 16 },
          splitLine: { show: true, lineStyle: { color: GRIDC, width: 1.5 } },
          name: "Date", nameLocation: "middle", nameGap: 48, nameMoveOverlap: false, nameTextStyle: nameStyle,
        },
      ],
      yAxis: [
        {
          type: "value", gridIndex: 0, min: 4875, max: 7271.5,
          axisLine: { show: false },
          axisTick: { ...tickStyle, customValues: priceTicks },
          axisLabel: { ...tickLabel, customValues: priceTicks, margin: 18, formatter: (v: number) => String(v) },
          splitLine: { show: true, lineStyle: { color: GRIDC, width: 1.5 } },
          name: "Price", nameLocation: "middle", nameGap: 88, nameMoveOverlap: false, nameTextStyle: nameStyle,
        },
        {
          type: "value", gridIndex: 1, min: 35.66, max: 205.84,
          axisLine: { show: false },
          axisTick: { ...tickStyle, customValues: atrTicks },
          axisLabel: { ...tickLabel, customValues: atrTicks, margin: 18, formatter: (v: number) => String(v) },
          splitLine: { show: true, lineStyle: { color: GRIDC, width: 1.5 } },
          name: "ATR (price units)", nameLocation: "middle", nameGap: 76, nameMoveOverlap: false, nameTextStyle: nameStyle,
        },
        {
          type: "value", gridIndex: 1, position: "right", min: 0.566, max: 3.924,
          axisLine: { show: false },
          axisTick: { show: true, length: 8, lineStyle: { color: C_PCT, width: 1.5 }, customValues: pctTicks },
          axisLabel: { ...tickLabel, color: C_PCT, customValues: pctTicks, margin: 17, formatter: (v: number) => v.toFixed(1) },
          splitLine: { show: false },
          name: "ATR %", nameLocation: "middle", nameGap: 60, nameRotate: 90, nameMoveOverlap: false, nameTextStyle: { ...nameStyle, color: C_PCT },
        },
      ],
      series: [
        {
          name: "SMA 50", type: "line", xAxisIndex: 0, yAxisIndex: 0, data: toXY(sma50),
          symbol: "none", lineStyle: { color: C_SMA, width: 2.8 }, z: 2, silent: true,
        },
        {
          name: "Close Price", type: "line", xAxisIndex: 0, yAxisIndex: 0, data: toXY(closePrice),
          symbol: "none", lineStyle: { color: C_CLOSE, width: 2.3 }, z: 3, silent: true,
        },
        {
          name: "Above avg volatility", type: "custom", xAxisIndex: 1, yAxisIndex: 1,
          data: [[atrXY[10][0], 60]], clip: true, silent: true, z: 1,
          renderItem: (_p: any, api: any) => ({
            type: "group",
            children: polys.map((poly) => ({
              type: "polygon",
              shape: { points: poly.map((p) => api.coord(p)) },
              style: { fill: C_FILL, stroke: null },
            })),
          }),
        },
        {
          name: "ATR SMA (20)", type: "line", xAxisIndex: 1, yAxisIndex: 1, data: smaXY,
          symbol: "none", lineStyle: { color: C_ATRSMA, width: 2.5, type: [9, 4] }, z: 2, silent: true,
        },
        {
          name: "ATR % of price", type: "line", xAxisIndex: 1, yAxisIndex: 2, data: toXY(atrPct),
          symbol: "none", lineStyle: { color: C_PCT, width: 2.5, type: [9, 4], opacity: 0.85 }, z: 3, silent: true,
        },
        {
          name: "ATR (14)", type: "line", xAxisIndex: 1, yAxisIndex: 1, data: atrXY,
          symbol: "none", lineStyle: { color: C_ATR, width: 3.5 }, z: 4, silent: true,
        },
      ],
      graphic: [
        { type: "rect", z: 100, shape: { x: 128, y: 9, width: 194, height: 70, r: 4 }, style: { fill: PANEL, stroke: "#4d535b", lineWidth: 2 } },
        legendLine(27, C_CLOSE, 2.5),
        legendText(196, 27, "Close Price"),
        legendLine(58, C_SMA, 3),
        legendText(196, 58, "SMA 50"),
        { type: "rect", z: 100, shape: { x: 128, y: 1167, width: 289, height: 132, r: 4 }, style: { fill: PANEL, stroke: "#4d535b", lineWidth: 2 } },
        legendLine(1184, C_ATR, 3.5),
        legendText(196, 1184, "ATR (14)"),
        { type: "rect", z: 101, shape: { x: 135, y: 1208, width: 46, height: 17 }, style: { fill: C_FILL, stroke: "rgba(255,166,87,0.25)", lineWidth: 1 } },
        legendText(196, 1216, "Above avg volatility"),
        legendLine(1247, C_ATRSMA, 2.5, [9, 4]),
        legendText(196, 1247, "ATR SMA (20)"),
        legendLine(1278, C_PCT, 2.5, [9, 4]),
        legendText(196, 1278, "ATR % of price"),
      ],
    };

    chart.setOption(option);
    return () => chart.dispose();
  }, []);

  return (
    <div
      ref={ref}
      style={{ position: "absolute", left: 0, top: 0, width: 2997, height: 1807, background: BG }}
    />
  );
}
